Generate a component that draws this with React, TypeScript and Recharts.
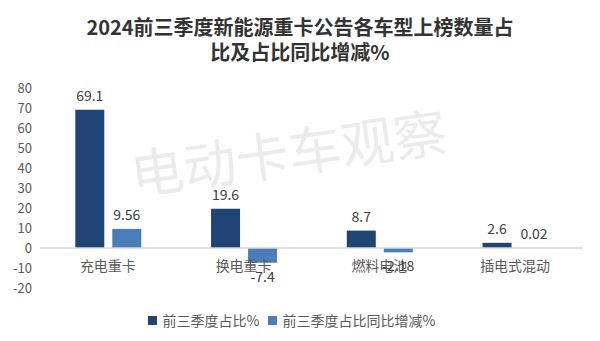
import React from "react";
import { BarChart, Bar, XAxis, YAxis, ReferenceLine, LabelList, Legend } from "recharts";

const categories = ["充电重卡", "换电重卡", "燃料电池", "插电式混动"];
const shareValues = [69.1, 19.6, 8.7, 2.6];
const changeValues = [9.56, -7.4, -2.18, 0.02];
const yTicks = [-20, -10, 0, 10, 20, 30, 40, 50, 60, 70, 80];

const SERIES = [
  { key: "share", name: "前三季度占比%", color: "#1f4576" },
  { key: "change", name: "前三季度占比同比增减%", color: "#4a7ebb" },
];

const data = categories.map((c, i) => ({
  name: c,
  share: shareValues[i],
  change: changeValues[i],
}));

const W = 600;
const H = 341;
const TOP = 88;
const PLOT_H = 200;
const Y_MIN = -20;
const Y_MAX = 80;
const ZERO_Y = TOP + (PLOT_H * Y_MAX) / (Y_MAX - Y_MIN);

const FONT = "'Noto Sans CJK SC', 'Noto Sans', sans-serif";

function CategoryTick({ x, payload }: any) {
  return (
    <text
      x={x}
      y={ZERO_Y + 23}
      textAnchor="middle"
      fill="#595959"
      fontSize={14}
      fontFamily={FONT}
    >
      {payload.value}
    </text>
  );
}

function LegendContent() {
  return (
    <div
      style={{
        height: 20,
        display: "flex",
        justifyContent: "center",
        alignItems: "center",
        gap: 8,
        fontFamily: FONT,
        fontSize: 14,
        color: "#595959",
      }}
    >
      {SERIES.map((s) => (
        <span key={s.key} style={{ display: "flex", alignItems: "center" }}>
          <span
            style={{
              display: "inline-block",
              width: 9,
              height: 9,
              background: s.color,
              marginRight: 6,
            }}
          />
          {s.name}
        </span>
      ))}
    </div>
  );
}

export default function App() {
  return (
    <div style={{ position: "relative", width: W, height: H, background: "#fff" }}>
      <style>{`body{margin:0}`}</style>
      <div
        style={{
          position: "absolute",
          top: 14,
          left: 0,
          width: W,
          textAlign: "center",
          fontFamily: FONT,
          fontWeight: 700,
          fontSize: 20,
          lineHeight: "25px",
          color: "#333",
        }}
      >
        2024前三季度新能源重卡公告各车型上榜数量占
        <br />
        比及占比同比增减%
      </div>
      <div
        style={{
          position: "absolute",
          left: 288,
          top: 150,
          transform: "translate(-50%, -50%) rotate(-8deg)",
          fontFamily: FONT,
          fontSize: 53,
          color: "#ebebeb",
          whiteSpace: "nowrap",
          pointerEvents: "none",
        }}
      >
        电动卡车观察
      </div>
      <div style={{ position: "absolute", top: 0, left: 0 }}>
        <BarChart
          width={W}
          height={H}
          data={data}
          margin={{ top: TOP, right: 17, bottom: 11, left: 0 }}
          barGap={8}
          barCategoryGap="26%"
        >
          <XAxis
            dataKey="name"
            axisLine={false}
            tickLine={false}
            height={22}
            tick={<CategoryTick />}
            interval={0}
          />
          <YAxis
            width={40}
            domain={[Y_MIN, Y_MAX]}
            ticks={yTicks}
            interval={0}
            axisLine={false}
            tickLine={false}
            tick={{ fill: "#595959", fontSize: 13, fontFamily: FONT }}
          />
          <ReferenceLine y={0} stroke="#d9d9d9" strokeWidth={1.5} />
          {SERIES.map((s) => (
            <Bar key={s.key} dataKey={s.key} name={s.name} fill={s.color} isAnimationActive={false}>
              <LabelList
                dataKey={s.key}
                position="top"
                offset={9}
                fill="#404040"
                fontSize={14}
                fontFamily={FONT}
              />
            </Bar>
          ))}
          <Legend verticalAlign="bottom" content={<LegendContent />} />
        </BarChart>
      </div>
    </div>
  );
}
